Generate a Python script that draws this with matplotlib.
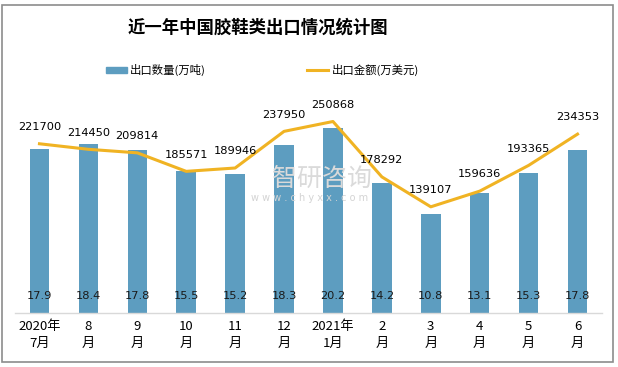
import numpy as np
import matplotlib
matplotlib.use('Agg')
import matplotlib.pyplot as plt
from matplotlib.patches import Rectangle
from matplotlib.lines import Line2D
from matplotlib.patches import Patch

plt.rcParams['font.family'] = ['Noto Sans CJK SC', 'DejaVu Sans']

months = ['2020年\n7月', '8\n月', '9\n月', '10\n月', '11\n月', '12\n月',
          '2021年\n1月', '2\n月', '3\n月', '4\n月', '5\n月', '6\n月']
qty = [17.9, 18.4, 17.8, 15.5, 15.2, 18.3, 20.2, 14.2, 10.8, 13.1, 15.3, 17.8]
amount = [221700, 214450, 209814, 185571, 189946, 237950, 250868,
          178292, 139107, 159636, 193365, 234353]

bar_col = '#5D9DC0'
line_col = '#F0B323'

fig = plt.figure(figsize=(6.18, 3.67), dpi=100)
fig.patches.append(Rectangle((2/618, 5/367), 611/618, 357/367, transform=fig.transFigure,
                             fill=False, edgecolor='#8c8c8c', linewidth=1.2))

# watermark
fig.text(322/618, 1 - 179/367, '智研咨询', ha='center', va='center', fontsize=18,
         color='#dadada', zorder=0)
fig.text(310/618, 1 - 198/367, 'w w w . c h y x x . c o m', ha='center', va='center',
         fontsize=7, color='#d4d4d4', family='DejaVu Sans', zorder=0)

ax = fig.add_axes([15/618, 54/367, 587/618, 229/367])
ax.patch.set_alpha(0)
x = np.arange(len(months))
ax.bar(x, qty, width=0.4, color=bar_col, zorder=2)
ax.set_ylim(0, 25)
ax.set_xlim(-0.5, len(months) - 0.5)
for i, v in enumerate(qty):
    ax.text(i, 1.85, f'{v}', ha='center', va='center', fontsize=8.2,
            family='DejaVu Sans', color='#1a1a1a', zorder=5)

ax2 = ax.twinx()
ax2.plot(x, amount, color=line_col, linewidth=2.2, zorder=3)
ax2.set_ylim(0, 300000)
for i, v in enumerate(amount):
    ax2.text(i, v + 22000, f'{v}', ha='center', va='center', fontsize=8.2,
             family='DejaVu Sans', color='black')

for a in (ax, ax2):
    for s in ['top', 'right', 'left']:
        a.spines[s].set_visible(False)
    a.set_yticks([])
ax2.spines['bottom'].set_visible(False)
ax.spines['bottom'].set_color('#d9d9d9')
ax.spines['bottom'].set_linewidth(1)
ax.set_xticks(x)
ax.set_xticklabels(months, fontsize=9.5, linespacing=1.35)
ax.tick_params(axis='x', length=0, pad=5)

fig.text(258/618, 1 - 28/367, '近一年中国胶鞋类出口情况统计图', ha='center', va='center',
         fontsize=12.5, fontweight='bold')

handles = [Patch(color=bar_col), Line2D([0], [0], color=line_col, lw=2.2)]
fig.legend(handles, ['出口数量(万吨)', '出口金额(万美元)'], loc='center left',
           bbox_to_anchor=(96/618, 1 - 70/367), ncol=2, frameon=False, fontsize=8.2,
           columnspacing=8.9, handlelength=1.8, handletextpad=0.3, handleheight=0.5)

fig.savefig('out.png', dpi=100)
